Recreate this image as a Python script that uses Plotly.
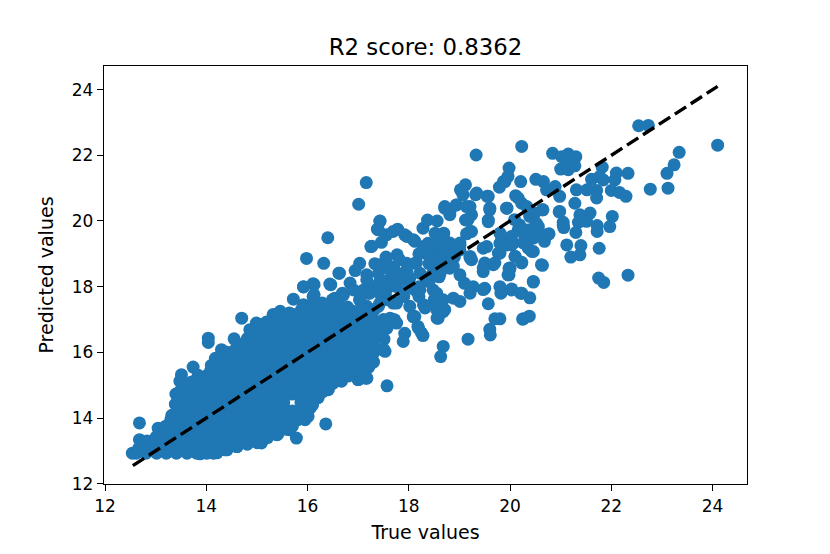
import plotly.graph_objects as go

title_text = "R2 score: 0.8362"
x_label = "True values"
y_label = "Predicted values"
tick_values = [12, 14, 16, 18, 20, 22, 24]
ideal_line = [12.55, 24.1]

upper_true = [24.10,23.34,23.24,23.10,23.12,22.77,22.54,22.73,20.23,20.84,21.15,21.30,21.02,21.15,21.28,21.00,21.15,21.82,22.33,22.10,
 22.07,21.61,21.77,21.84,22.00,22.16,22.29,21.71,21.71,21.52,21.31,19.98,20.51,20.66,20.21,19.87,19.96,20.72,20.89,20.98,
 20.11,20.23,19.94,20.64,20.49,20.39,21.28,20.97,21.58,21.38,22.02,21.05,21.06,21.35,21.51,21.30,21.72,21.72,21.97,20.56,
 20.77,20.68,20.19,20.39,20.29,20.46,20.43,20.36,19.93,20.03,19.83,21.12,21.40,21.76,21.38,21.20,20.10,20.23,20.64,20.00,
 19.98,20.46,21.75,21.85,22.33,20.03,20.21,20.39,19.83,20.26,20.38,19.80]
upper_pred = [22.31,22.09,21.71,21.45,21.00,20.97,22.90,22.91,22.27,22.06,22.04,21.96,21.96,21.81,21.68,21.58,21.56,21.64,21.45,21.46,
 21.25,21.27,21.35,21.25,20.93,20.87,20.75,20.70,20.93,20.95,20.95,21.61,21.27,21.20,21.20,21.20,21.36,20.95,21.05,20.75,
 20.77,20.54,20.39,20.34,20.24,20.14,20.54,20.28,20.24,20.19,20.14,19.96,19.80,19.96,19.99,19.65,19.86,19.68,19.83,19.83,
 19.61,19.38,19.88,19.73,19.53,19.53,19.07,19.17,19.27,19.27,19.53,19.27,19.25,19.17,18.97,18.90,18.92,18.74,18.65,18.57,
 18.36,18.14,18.26,18.13,18.35,17.93,17.80,17.66,17.86,17.02,17.10,17.02]

middle_true = [19.33,17.16,17.01,16.40,15.98,16.32,16.62,19.79,19.90,19.12,19.02,19.07,19.32,19.55,18.71,18.81,18.94,19.21,19.60,19.57,
 19.12,19.24,19.21,19.14,17.43,17.38,17.78,17.56,17.46,17.25,17.96,18.12,18.28,18.37,18.56,18.52,18.69,18.38,18.58,18.81,
 19.01,19.24,18.75,18.48,18.32,18.12,17.77,17.55,17.33,17.96,17.59,17.03,16.94,17.17,16.84,16.44,16.11,15.92,17.43,17.89,
 18.22,18.48,18.81,19.01,18.12,18.48,17.76,17.43,17.03,16.71,16.24,19.01,18.68,18.32,18.68,18.56,18.09,17.76,19.27,19.50,
 19.80,20.03,20.23,19.82,19.57,19.70,20.25,19.60,19.61,19.17,18.68,18.63,19.47,19.50,19.67,19.98,19.96,20.23,19.77,19.47,
 19.80,20.06,20.32,20.16,20.46,20.52,17.63,17.76,17.92,17.89,18.19,18.28,17.43,17.53,17.27,16.90,17.17,17.30,17.13,16.51,
 16.11,16.21,15.92,17.57]
middle_pred = [22.01,21.17,20.51,19.49,18.86,18.71,18.41,21.03,21.20,21.10,20.95,20.80,20.80,20.75,20.44,20.19,20.49,20.44,20.39,20.03,
 20.03,20.19,19.68,19.61,20.00,19.75,19.75,19.58,19.35,19.22,19.53,19.38,19.78,20.03,20.00,19.63,19.63,19.32,19.22,19.22,
 19.27,18.82,18.82,18.92,19.02,18.71,18.97,18.90,18.70,18.71,18.56,18.71,18.49,18.36,18.11,18.08,18.09,18.00,18.16,18.41,
 18.41,18.41,18.56,18.36,17.90,17.90,18.00,17.80,17.60,17.75,17.40,17.55,17.60,17.35,17.24,17.04,17.09,17.50,18.00,17.95,
 18.00,17.90,17.80,17.80,17.48,17.02,17.01,16.70,16.53,16.40,16.18,15.87,18.46,18.72,18.67,18.56,18.36,18.72,19.02,19.17,
 19.32,19.32,19.53,19.73,18.16,19.63,17.04,16.89,16.58,16.33,16.74,16.51,16.79,16.03,15.72,15.67,15.21,16.38,16.94,17.60,
 17.70,17.45,17.45,14.98]

mid_fill_true = [17.60,17.80,18.00,18.20,18.40,18.60,18.60,18.40,18.60,18.90,18.20,17.70,17.40,17.30,17.20,17.60,17.90,18.20,18.50,19.10,17.40,17.30]
mid_fill_pred = [18.20,18.20,18.10,18.00,18.15,18.30,18.60,18.70,18.90,18.90,19.00,18.60,18.40,18.00,17.80,17.60,17.70,17.70,17.60,18.10,17.40,17.00]

band_a_true = [17.27,17.43,17.40,17.69,17.92,18.09,18.29,18.61,18.48,18.81,18.68,19.01,19.21,18.48,18.81,18.62,18.35,18.02,17.69,17.17,
 17.23,17.56,17.89,18.22,18.55,18.88,19.21,19.47,17.43,17.82,17.56,18.15,17.69,17.96,18.29,18.55,18.02,17.69,17.43,17.17,18.12,17.69,17.23,17.03]
band_a_pred = [19.23,19.99,19.73,19.68,19.58,19.43,19.22,19.53,19.28,19.33,18.97,19.12,18.87,18.72,18.72,18.41,18.26,18.26,18.26,18.21,
 17.80,17.90,17.80,17.90,17.80,17.65,17.80,17.91,18.67,18.82,18.87,18.72,18.46,18.46,17.45,17.30,17.40,17.50,17.50,17.40,17.09,16.99,17.09,17.60]
band_b_true = [19.34,19.57,19.60,19.57,19.17,19.24,18.81,18.71,18.94,19.14,19.93,20.16,20.33,20.65,20.09,20.39,20.52,20.29,20.72,20.46,
 20.26,20.46,20.03,19.80,19.54,19.80,20.10,19.47,19.70,19.99,19.01,19.21,18.68,18.81,18.61,18.88,20.98,21.05,20.62]
band_b_pred = [20.85,20.75,20.34,19.98,20.04,19.68,20.24,20.39,20.49,20.44,20.39,20.70,20.44,20.34,20.04,20.19,19.93,19.73,19.58,19.48,
 19.33,19.07,19.53,19.63,19.22,19.02,18.92,18.57,18.72,18.51,19.33,18.92,19.53,19.07,18.82,18.62,20.29,19.88,18.67]
band_c_true = [18.25,18.18,18.58,18.71,18.32,18.09,17.72,17.57,17.49,17.30,17.13,17.00,16.90,17.43,17.23,17.10]
band_c_pred = [16.59,16.79,17.04,17.30,17.40,17.09,16.99,16.74,16.08,15.72,15.22,15.17,15.72,16.59,16.18,16.59]

edge_true = [12.68,16.36,12.54,12.68,13.05,13.32,13.40,13.48,13.51,13.74,13.84,14.04,14.04,14.55,14.76,14.30,14.24,14.70,14.86,14.99,
 15.32,15.46,15.64,15.72,15.92,16.13,16.13,16.46,16.63,16.21,16.54,15.78,15.95,16.05,16.41,16.67,17.00,17.17,16.90,15.39,
 15.65,15.09,14.60,14.37,14.14,13.88,15.87,15.53,15.70,15.70]
edge_pred = [13.85,13.82,12.93,13.34,13.69,14.08,14.73,15.12,15.32,15.55,15.30,16.43,16.30,16.41,16.08,16.08,15.83,17.04,16.69,16.89,
 17.15,17.25,17.20,17.62,17.99,18.06,17.75,18.06,18.41,17.45,17.65,13.39,13.95,14.30,14.86,15.12,15.17,15.22,15.67,13.49,
 13.64,13.24,13.13,13.03,12.93,12.91,14.47,14.47,14.73,14.21]

dense_true = [
 12.62,12.66,
 12.81,12.78,12.83,
 13.02,12.98,13.01,
 13.21,13.18,13.23,13.20,
 13.41,13.38,13.42,13.40,13.43,13.39,
 13.62,13.58,13.61,13.60,13.63,13.59,13.61,13.57,
 13.81,13.79,13.82,13.78,13.80,13.83,13.79,13.81,
 14.01,13.98,14.02,14.00,13.97,14.03,14.01,13.99,14.02,
 14.21,14.19,14.22,14.18,14.20,14.23,14.21,14.19,14.20,14.22,14.18,
 14.41,14.39,14.42,14.38,14.40,14.43,14.41,14.39,14.40,14.42,14.38,14.41,14.39,
 14.61,14.59,14.62,14.58,14.60,14.63,14.61,14.59,14.60,14.62,14.58,14.61,14.59,
 14.81,14.79,14.82,14.78,14.80,14.83,14.81,14.79,14.80,14.82,14.78,14.81,14.79,14.80,
 15.01,14.99,15.02,14.98,15.00,15.03,15.01,14.99,15.00,15.02,14.98,15.01,14.99,15.00,
 15.21,15.19,15.22,15.18,15.20,15.23,15.21,15.19,15.20,15.22,15.18,15.21,15.19,15.20,
 15.41,15.39,15.42,15.38,15.40,15.43,15.41,15.39,15.40,15.42,15.38,15.41,15.39,15.40,
 15.61,15.59,15.62,15.62,15.60,15.63,15.61,15.59,15.60,15.62,15.58,15.61,
 15.81,15.79,15.82,15.78,15.80,15.83,15.81,15.79,15.80,15.82,15.78,
 16.01,15.99,16.02,15.98,16.00,16.03,16.01,15.99,16.00,16.02,15.98,16.01,
 16.21,16.19,16.22,16.18,16.20,16.23,16.21,16.19,16.20,16.22,
 16.41,16.39,16.42,16.38,16.40,16.43,16.41,16.39,16.40,
 16.61,16.59,16.62,16.58,16.60,16.63,16.61,16.59,16.60,
 16.81,16.79,16.82,16.78,16.80,16.83,16.81,16.79,
 17.01,16.99,17.02,16.98,17.00,17.03,17.01,
 17.21,17.19,17.22,17.18,17.20,17.23,
]
dense_pred = [
 12.93,13.06,
 12.93,13.12,13.30,
 12.93,13.16,13.42,
 12.93,13.20,13.50,13.75,
 12.93,13.20,13.50,13.82,14.12,14.42,
 12.93,13.21,13.52,13.81,14.10,14.41,14.70,14.96,
 12.93,13.20,13.51,13.80,14.12,14.40,14.71,15.02,
 12.93,13.22,13.50,13.81,14.10,14.42,14.70,15.01,15.30,
 12.94,13.20,13.52,13.80,14.11,14.41,14.72,15.00,15.31,15.60,15.82,
 13.03,13.31,13.61,13.90,14.21,14.50,14.80,15.11,15.40,15.70,15.62,16.00,15.25,
 13.13,13.41,13.70,14.01,14.30,14.60,14.91,15.20,15.51,15.80,16.10,15.02,14.40,
 13.20,13.50,13.80,14.11,14.40,14.70,15.01,15.30,15.60,15.91,16.20,16.42,14.62,15.22,
 13.25,13.55,13.86,14.15,14.46,14.75,15.05,15.36,15.65,15.95,16.25,16.55,16.72,14.90,
 13.40,13.70,14.00,14.30,14.60,14.90,15.20,15.50,15.80,16.10,16.40,16.70,16.92,15.35,
 13.50,13.82,14.10,14.40,14.72,15.00,15.30,15.60,15.92,16.20,16.50,16.80,16.98,15.15,
 13.65,13.95,14.20,14.78,15.05,15.36,15.66,15.96,16.26,16.56,16.86,17.02,
 13.95,14.18,14.76,15.08,15.38,15.70,16.00,16.30,16.60,16.90,17.06,
 14.05,14.35,14.64,14.95,15.25,15.55,15.85,16.15,16.45,16.75,17.05,17.40,
 14.62,14.92,15.22,15.52,15.82,16.12,16.42,16.72,17.02,17.30,
 14.92,15.22,15.52,15.82,16.12,16.42,16.72,17.02,17.32,
 15.16,15.46,15.76,16.06,16.36,16.66,16.96,17.26,17.56,
 15.28,15.58,15.88,16.18,16.48,16.78,17.08,17.38,
 15.45,15.75,16.05,16.35,16.65,16.95,17.25,
 15.55,15.85,16.15,16.45,16.75,17.05,
]

stagger_true = [
 13.10,13.12,
 13.30,13.31,13.29,13.30,
 13.50,13.51,13.49,13.50,13.52,13.48,13.50,
 13.70,13.71,13.69,13.70,13.72,13.68,13.70,13.71,
 13.90,13.91,13.89,13.90,13.92,13.88,13.90,13.91,
 14.10,14.11,14.09,14.10,14.12,14.08,14.10,14.11,14.09,14.10,
 14.30,14.31,14.29,14.30,14.32,14.28,14.30,14.31,14.29,14.30,
 14.50,14.51,14.49,14.50,14.52,14.48,14.50,14.51,14.49,14.50,
 14.70,14.71,14.69,14.70,14.72,14.68,14.70,14.71,14.69,14.70,14.72,
 14.90,14.91,14.89,14.90,14.92,14.88,14.90,14.91,14.89,14.90,14.92,14.88,
 15.10,15.11,15.09,15.10,15.12,15.08,15.10,15.11,15.09,15.10,15.12,15.08,
 15.30,15.31,15.29,15.30,15.32,15.28,15.30,15.31,15.29,15.30,15.32,15.28,
 15.50,15.51,15.49,15.50,15.52,15.48,15.50,15.51,15.49,15.50,15.52,15.48,
 15.70,15.71,15.69,15.70,15.72,15.68,15.70,15.71,15.69,15.70,15.72,
 15.90,15.91,15.89,15.90,15.92,15.88,15.90,15.91,15.89,15.90,15.92,15.88,
 16.10,16.11,16.09,16.10,16.12,16.08,16.10,16.11,16.09,16.10,16.12,
 16.30,16.31,16.29,16.30,16.32,16.28,16.30,16.31,16.29,
 16.50,16.51,16.49,16.50,16.52,16.48,16.50,16.51,16.49,
 16.70,16.71,16.69,16.70,16.72,16.68,16.70,16.71,16.69,
 16.90,16.91,16.89,16.90,16.92,16.88,16.90,16.91,
 17.10,17.11,17.09,17.10,17.12,17.08,17.10,17.11,
 17.30,17.31,17.29,17.30,17.32,
 17.50,17.51,17.49,17.50,17.52,
]
stagger_pred = [
 13.05,13.30,
 13.05,13.35,13.65,13.95,
 13.05,13.35,13.65,13.95,14.25,14.55,14.85,
 13.05,13.35,13.65,13.95,14.25,14.55,14.85,15.10,
 13.05,13.35,13.65,13.95,14.25,14.55,14.85,15.15,
 13.05,13.35,13.65,13.95,14.25,14.55,14.85,15.15,15.45,15.60,
 13.15,13.45,13.75,14.05,14.35,14.65,14.95,15.25,15.55,15.85,
 13.20,13.50,13.80,14.10,14.40,14.70,15.00,15.30,15.60,15.90,
 13.25,13.55,13.85,14.15,14.45,14.75,15.05,15.35,15.65,15.95,16.25,
 13.35,13.65,13.95,14.25,14.55,14.85,15.15,15.45,15.75,16.05,16.35,16.55,
 13.40,13.70,14.00,14.30,14.60,14.90,15.20,15.50,15.80,16.10,16.40,16.85,
 13.55,13.85,14.15,14.45,14.75,15.05,15.35,15.65,15.95,16.25,16.55,16.85,
 13.65,13.95,14.25,14.45,14.75,15.05,15.35,15.65,15.95,16.25,16.55,16.95,
 13.75,14.05,14.90,15.20,15.50,15.80,16.10,16.40,16.70,17.00,17.15,
 14.00,14.30,14.60,14.90,15.20,15.50,15.80,16.10,16.40,16.70,17.00,17.30,
 14.40,14.70,15.00,15.30,15.60,15.90,16.20,16.50,16.80,17.10,17.50,
 14.80,15.10,15.40,15.70,16.00,16.30,16.60,16.90,17.50,
 15.05,15.35,15.65,15.95,16.25,16.55,16.85,17.15,17.60,
 15.25,15.55,15.85,16.15,16.45,16.75,17.05,17.35,17.80,
 15.45,15.75,16.05,16.35,16.65,16.95,17.25,17.90,
 15.50,15.80,16.10,16.40,16.70,17.00,17.30,17.90,
 15.70,16.00,16.30,16.60,17.30,
 16.10,16.40,16.70,17.00,17.90,
]

true_values = (upper_true + middle_true + mid_fill_true + band_a_true + band_b_true
               + band_c_true + edge_true + dense_true + stagger_true)
predicted_values = (upper_pred + middle_pred + mid_fill_pred + band_a_pred + band_b_pred
                    + band_c_pred + edge_pred + dense_pred + stagger_pred)

fig = go.Figure()
fig.add_trace(go.Scatter(x=true_values, y=predicted_values, mode="markers",
                         marker=dict(color="#1f77b4", size=13, line=dict(width=0)),
                         showlegend=False))
fig.add_trace(go.Scatter(x=ideal_line, y=ideal_line, mode="lines",
                         line=dict(color="black", width=3.4, dash="13.4px,5.6px"),
                         showlegend=False))

axis = dict(showgrid=False, zeroline=False, showline=True, mirror=True,
            linecolor="black", linewidth=1.3, ticks="outside", ticklen=6,
            tickwidth=1.3, tickcolor="black", tickvals=tick_values,
            tickfont=dict(size=17))
fig.update_xaxes(range=[11.98, 24.68], title=dict(text=x_label, font=dict(size=19), standoff=11), **axis)
fig.update_yaxes(range=[11.99, 24.72], title=dict(text=y_label, font=dict(size=19), standoff=13), **axis)
fig.update_layout(
    width=830, height=554,
    margin=dict(l=96, r=91, t=58, b=78, autoexpand=False),
    paper_bgcolor="white", plot_bgcolor="white",
    font=dict(family="DejaVu Sans", size=16, color="black"),
    title=dict(text=title_text, font=dict(size=22.8), x=417.5 / 830, xanchor="center",
               y=1 - 39 / 554, yanchor="middle"),
)
fig.write_html("out.html")
